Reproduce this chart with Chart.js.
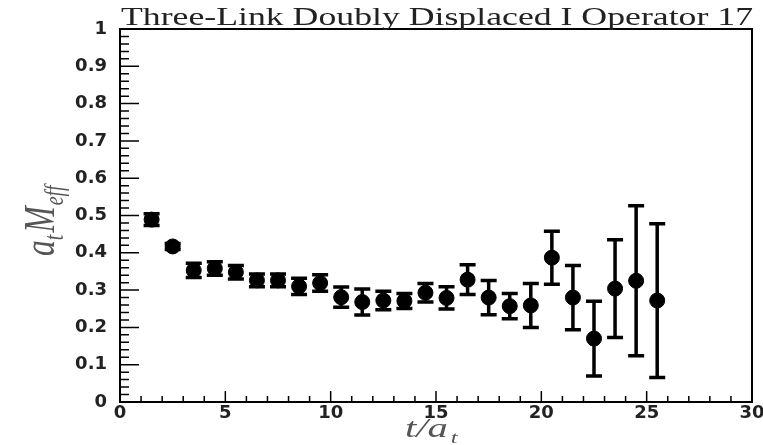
<!DOCTYPE html>
<html>
<head>
<meta charset="utf-8">
<script src="https://cdn.jsdelivr.net/npm/chart.js@4.4.1/dist/chart.umd.min.js"></script>
<style>
  html, body { margin: 0; padding: 0; background: #fff; }
  #wrap { width: 763px; height: 445px; }
</style>
</head>
<body>
<div id="wrap"><canvas id="effMass"></canvas></div>
<script>
// effective mass vs t/a_t
const tValues = [1.5, 2.5, 3.5, 4.5, 5.5, 6.5, 7.5, 8.5, 9.5, 10.5, 11.5, 12.5, 13.5,
                 14.5, 15.5, 16.5, 17.5, 18.5, 19.5, 20.5, 21.5, 22.5, 23.5, 24.5, 25.5];
const mEff = [0.489, 0.417, 0.353, 0.358, 0.348, 0.326, 0.326, 0.310, 0.319, 0.281, 0.268, 0.272, 0.271,
              0.293, 0.279, 0.328, 0.280, 0.257, 0.259, 0.387, 0.280, 0.170, 0.304, 0.325, 0.272];
const mEffErr = [0.016, 0.008, 0.019, 0.018, 0.018, 0.017, 0.017, 0.022, 0.022, 0.027, 0.035, 0.025, 0.020,
                 0.025, 0.030, 0.040, 0.046, 0.034, 0.059, 0.071, 0.086, 0.100, 0.131, 0.201, 0.206];

const chartTitle = 'Three-Link Doubly Displaced I Operator 17';
const xTicks = [0, 5, 10, 15, 20, 25, 30];
const yTicks = [0, 0.1, 0.2, 0.3, 0.4, 0.5, 0.6, 0.7, 0.8, 0.9, 1];

let points = tValues.map((t, i) => ({ x: t, y: mEff[i], err: mEffErr[i] }));

// vertical error bars with caps
const errorBars = {
    id: 'errorBars',
    beforeDatasetsDraw(chart) {
        let ctx = chart.ctx, xs = chart.scales.x, ys = chart.scales.y;
        ctx.save();
        ctx.strokeStyle = '#000';
        ctx.lineWidth = 3.5;
        points.forEach(p => {
            let px = xs.getPixelForValue(p.x);
            let top = ys.getPixelForValue(p.y + p.err);
            let bot = ys.getPixelForValue(p.y - p.err);
            ctx.beginPath();
            ctx.moveTo(px, top); ctx.lineTo(px, bot);
            ctx.moveTo(px - 8, top); ctx.lineTo(px + 8, top);
            ctx.moveTo(px - 8, bot); ctx.lineTo(px + 8, bot);
            ctx.stroke();
        });
        ctx.restore();
    }
};

// frame, inward ticks, titles
const frameAndText = {
    id: 'frameAndText',
    afterDraw(chart) {
        let ctx = chart.ctx, a = chart.chartArea, xs = chart.scales.x, ys = chart.scales.y;
        ctx.save();
        ctx.strokeStyle = '#000';
        ctx.lineWidth = 2;
        ctx.strokeRect(a.left, a.top, a.right - a.left, a.bottom - a.top);

        ctx.lineWidth = 1.5;
        ctx.beginPath();
        for (let k = 0; k <= 50; k++) {
            let v = k * 0.02;
            let py = ys.getPixelForValue(v);
            let len = (k % 5 === 0) ? 19 : 9;
            ctx.moveTo(a.left, py); ctx.lineTo(a.left + len, py);
        }
        for (let k = 0; k <= 30; k++) {
            let px = xs.getPixelForValue(k);
            let len = (k % 5 === 0) ? 11 : 6;
            ctx.moveTo(px, a.bottom); ctx.lineTo(px, a.bottom - len);
        }
        ctx.stroke();

        // title, stretched across the frame
        ctx.fillStyle = '#222';
        ctx.font = '25px "Liberation Serif", "Times New Roman", serif';
        ctx.textBaseline = 'alphabetic';
        let w = ctx.measureText(chartTitle).width;
        let sx = (a.right - a.left) / w;
        ctx.save();
        ctx.translate(a.left + 1, 25);
        ctx.scale(sx, 1);
        ctx.fillText(chartTitle, 0, 0);
        ctx.restore();

        // x axis title t/a_t
        ctx.fillStyle = '#555';
        ctx.save();
        ctx.translate(405, 437);
        ctx.scale(1.45, 1);
        ctx.font = 'italic 28px "Liberation Serif", serif';
        ctx.fillText('t/a', 0, 0);
        let w1 = ctx.measureText('t/a').width;
        ctx.font = 'italic 17px "Liberation Serif", serif';
        ctx.fillText('t', w1 + 2, 6);
        ctx.restore();

        // y axis title a_t M_eff
        ctx.save();
        ctx.translate(54, 256);
        ctx.rotate(-Math.PI / 2);
        ctx.scale(1.05, 1.45);
        ctx.font = 'italic 30px "Liberation Serif", serif';
        ctx.fillText('a', 0, 0);
        let wa = ctx.measureText('a').width;
        ctx.font = 'italic 19px "Liberation Serif", serif';
        ctx.fillText('t', wa, 6);
        let wt = ctx.measureText('t').width;
        ctx.font = 'italic 30px "Liberation Serif", serif';
        ctx.fillText('M', wa + wt + 2, 0);
        let wm = ctx.measureText('M').width;
        ctx.font = 'italic 19px "Liberation Serif", serif';
        ctx.fillText('eff', wa + wt + wm + 3, 6);
        ctx.restore();

        ctx.restore();
    }
};

let ctx = document.getElementById('effMass').getContext('2d');

this.chart = new Chart(ctx, {
    type: 'scatter',
    data: {
        datasets: [{
            label: 'aM_eff',
            data: points,
            backgroundColor: '#000',
            borderColor: '#000',
            pointRadius: 7.5,
            pointHoverRadius: 7.5,
            pointStyle: 'circle',
            showLine: false
        }]
    },
    options: {
        responsive: true,
        maintainAspectRatio: false,
        animation: false,
        layout: { padding: { left: 0, right: 11, top: 29, bottom: 0 } },
        plugins: {
            legend: { display: false },
            tooltip: { enabled: false },
            title: { display: false }
        },
        scales: {
            x: {
                type: 'linear',
                min: 0,
                max: 30,
                afterBuildTicks: (scale) => { scale.ticks = xTicks.map(v => ({ value: v })); },
                afterFit: (scale) => { scale.height = 43; scale.paddingLeft = 0; scale.paddingRight = 0; },
                grid: { display: false, drawTicks: false },
                border: { display: false },
                ticks: {
                    padding: 2,
                    color: '#222',
                    font: { family: '"DejaVu Sans", sans-serif', size: 18, weight: 'bold', lineHeight: 1 },
                    maxRotation: 0
                }
            },
            y: {
                type: 'linear',
                min: 0,
                max: 1,
                afterBuildTicks: (scale) => { scale.ticks = yTicks.map(v => ({ value: v })); },
                afterFit: (scale) => { scale.width = 120; scale.paddingTop = 0; scale.paddingBottom = 0; },
                grid: { display: false, drawTicks: false },
                border: { display: false },
                ticks: {
                    padding: 13,
                    color: '#222',
                    font: { family: '"DejaVu Sans", sans-serif', size: 18, weight: 'bold' },
                    callback: (v) => (v === 0 || v === 1) ? String(v) : v.toFixed(1)
                }
            }
        }
    },
    plugins: [errorBars, frameAndText]
});
</script>
</body>
</html>
